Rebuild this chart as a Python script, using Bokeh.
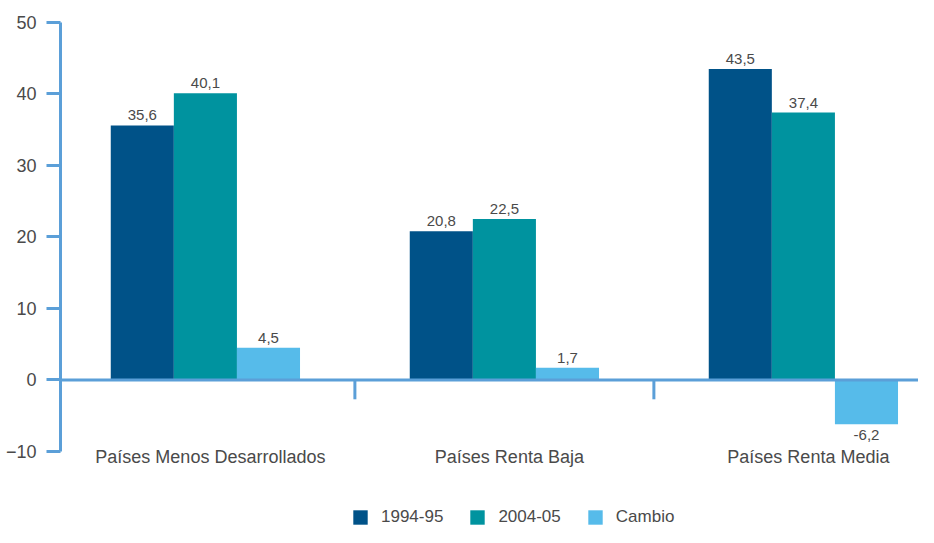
from bokeh.plotting import figure
from bokeh.models import (ColumnDataSource, Range1d, Span, Legend, LegendItem,
                          SingleIntervalTicker)
from bokeh.transform import dodge
from bokeh.core.properties import value
from bokeh.embed import file_html
from bokeh.resources import INLINE

# ---- data ----
categories = ["Países Menos Desarrollados", "Países Renta Baja", "Países Renta Media"]
series = ["1994-95", "2004-05", "Cambio"]
v_1994 = [35.6, 20.8, 43.5]
v_2004 = [40.1, 22.5, 37.4]
v_cambio = [4.5, 1.7, -6.2]
colors = ["#005288", "#00939f", "#56bbea"]

AXIS = "#5b9fd8"
TXT = "#4a4a4a"
FONT = "Liberation Sans"

p = figure(width=918, height=527,
           x_range=Range1d(0.0154, 2.885), y_range=Range1d(-20.63, 50),
           min_border_left=60, min_border_right=0, min_border_top=22, min_border_bottom=0,
           x_axis_type=None, toolbar_location=None, output_backend="svg")
p.outline_line_color = None
p.grid.visible = False
p.background_fill_color = "white"

xs = [i + 0.5 for i in range(len(categories))]
bw = 0.211
offsets = [-bw, 0.0, bw]

items = []
for name, vals, col, off in zip(series, [v_1994, v_2004, v_cambio], colors, offsets):
    src = ColumnDataSource(dict(
        x=xs, v=vals,
        lab=[("%.1f" % v).replace(".", ",") for v in vals],
        yo=[-10 if v >= 0 else 11 for v in vals],
    ))
    r = p.vbar(x=dodge("x", off, range=p.x_range), top="v", bottom=0, width=bw,
               fill_color=col, line_color=None, source=src)
    p.text(x=dodge("x", off, range=p.x_range), y="v", text="lab", y_offset="yo",
           text_align="center", text_baseline="middle", text_font=value(FONT),
           text_font_size="15px", text_color=TXT, source=src)
    items.append(LegendItem(label=name, renderers=[r]))

# zero line and category separators
p.add_layout(Span(location=0, dimension="width", line_color=AXIS, line_width=3))
seps = list(range(1, len(categories)))
p.segment(x0=seps, x1=seps, y0=[0] * len(seps), y1=[-2.7] * len(seps),
          line_color=AXIS, line_width=3)

# category labels
csrc = ColumnDataSource(dict(x=xs, t=categories, y=[-10.7] * len(xs)))
p.text(x="x", y="y", text="t", x_offset=5, text_align="center", text_baseline="middle",
       text_font=value(FONT), text_font_size="18px", text_color=TXT, source=csrc)

# y axis
ax = p.yaxis[0]
ax.bounds = (-10, 50)
ax.ticker = SingleIntervalTicker(interval=10)
ax.axis_line_color = AXIS
ax.axis_line_width = 3
ax.major_tick_line_color = AXIS
ax.major_tick_line_width = 3
ax.major_tick_out = 14
ax.major_tick_in = 0
ax.minor_tick_line_color = None
ax.major_label_text_font = FONT
ax.major_label_text_font_size = "18px"
ax.major_label_text_color = TXT
ax.major_label_standoff = 10

legend = Legend(items=items, orientation="horizontal", location=(291, 0),
                glyph_width=18, glyph_height=18, label_standoff=12, spacing=25,
                padding=0, margin=0, border_line_alpha=0, background_fill_alpha=0,
                label_text_font=FONT, label_text_font_size="17px", label_text_color=TXT)
p.add_layout(legend)

open("out.html", "w").write(file_html(p, INLINE))
